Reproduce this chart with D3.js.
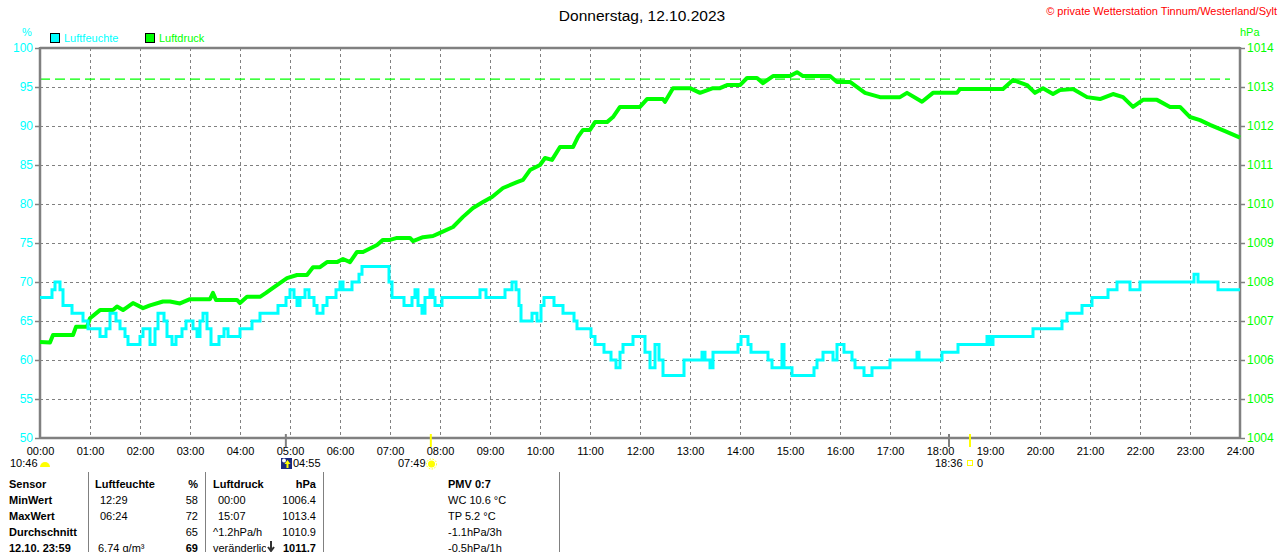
<!DOCTYPE html>
<html>
<head>
<meta charset="utf-8">
<script src="https://cdn.jsdelivr.net/npm/d3@7/dist/d3.min.js"></script>
<style>
  body { margin: 0; background: #fff; }
  text { font-family: "Liberation Sans", Arial, sans-serif; }
</style>
</head>
<body>
<script>
// humidity (%), step values: hour of day -> value
var humTime = [0.00,0.24,0.30,0.40,0.46,0.64,0.86,0.96,1.20,1.32,1.40,1.52,1.60,1.70,1.76,2.00,2.06,2.20,2.30,2.36,2.48,2.54,2.64,2.72,2.84,2.92,3.06,3.14,3.20,3.26,3.34,3.42,3.58,3.68,3.76,4.00,4.24,4.40,4.76,4.92,5.00,5.08,5.14,5.20,5.30,5.38,5.48,5.54,5.66,5.74,5.92,6.00,6.06,6.24,6.38,6.44,6.98,7.04,7.28,7.44,7.50,7.56,7.64,7.70,7.80,7.86,7.90,8.04,8.80,8.92,9.30,9.44,9.52,9.58,9.62,9.84,9.94,10.02,10.08,10.28,10.46,10.68,10.74,11.02,11.10,11.28,11.42,11.52,11.60,11.66,11.86,12.10,12.20,12.30,12.38,12.46,12.88,13.24,13.30,13.40,13.46,13.96,14.02,14.16,14.22,14.56,14.64,14.84,14.88,15.04,15.48,15.54,15.66,15.86,15.94,16.08,16.24,16.30,16.48,16.64,17.00,17.54,17.58,18.04,18.36,18.94,19.00,19.06,19.86,20.44,20.54,20.84,21.04,21.36,21.54,21.80,22.00,23.08,23.16,23.56,24.00];
var humValue = [68,69,70,69,67,66,65,64,63,64,66,65,64,63,62,63,64,62,64,66,65,63,62,63,64,65,64,63,65,66,64,62,63,64,63,64,65,66,67,68,69,68,67,68,69,68,67,66,67,68,69,70,69,70,71,72,70,68,67,68,69,67,66,68,69,68,67,68,69,68,69,70,69,67,65,66,65,67,68,67,66,65,64,63,62,61,60,59,61,62,63,61,59,62,60,58,60,61,60,59,61,62,63,62,61,60,59,62,59,58,59,60,61,60,62,61,60,59,58,59,60,61,60,61,62,63,62,63,64,65,66,67,68,69,70,69,70,71,70,69,69];

// air pressure (hPa)
var presTime = [0.00,0.20,0.26,0.66,0.72,0.94,1.00,1.20,1.46,1.54,1.66,1.86,2.06,2.20,2.46,2.60,2.80,3.00,3.40,3.46,3.52,3.94,4.00,4.14,4.40,4.52,4.66,4.94,5.14,5.34,5.46,5.60,5.74,5.94,6.06,6.20,6.34,6.46,6.74,6.86,7.00,7.14,7.40,7.46,7.66,7.86,8.00,8.26,8.46,8.66,8.86,9.04,9.26,9.54,9.66,9.80,10.00,10.10,10.24,10.40,10.66,10.76,10.86,11.00,11.10,11.34,11.46,11.60,12.00,12.14,12.46,12.50,12.66,13.00,13.20,13.46,13.60,13.74,14.00,14.14,14.34,14.46,14.66,15.00,15.14,15.26,15.80,15.94,16.20,16.50,16.80,17.20,17.34,17.64,17.86,18.34,18.40,19.26,19.46,19.74,19.90,20.06,20.26,20.40,20.66,20.94,21.20,21.46,21.66,21.86,22.06,22.34,22.60,22.80,23.00,23.20,23.40,23.70,24.00];
var presValue = [1006.46,1006.45,1006.64,1006.64,1006.85,1006.85,1007.07,1007.28,1007.28,1007.37,1007.28,1007.46,1007.33,1007.40,1007.50,1007.50,1007.45,1007.56,1007.56,1007.72,1007.54,1007.54,1007.46,1007.62,1007.62,1007.72,1007.85,1008.10,1008.18,1008.18,1008.38,1008.38,1008.51,1008.51,1008.59,1008.51,1008.77,1008.77,1008.95,1009.08,1009.08,1009.13,1009.13,1009.05,1009.15,1009.18,1009.26,1009.41,1009.67,1009.90,1010.05,1010.18,1010.41,1010.56,1010.62,1010.87,1011.00,1011.18,1011.13,1011.46,1011.46,1011.72,1011.90,1011.90,1012.10,1012.10,1012.23,1012.49,1012.49,1012.69,1012.69,1012.62,1012.97,1012.97,1012.85,1012.97,1012.97,1013.05,1013.05,1013.23,1013.23,1013.10,1013.28,1013.28,1013.38,1013.28,1013.28,1013.13,1013.13,1012.85,1012.74,1012.74,1012.85,1012.62,1012.85,1012.85,1012.95,1012.95,1013.18,1013.05,1012.85,1012.97,1012.82,1012.92,1012.95,1012.74,1012.69,1012.82,1012.74,1012.49,1012.67,1012.67,1012.49,1012.49,1012.23,1012.15,1012.03,1011.87,1011.70];

var refPressure = 1013.2;                       // dashed green reference line

var hourTicks = d3.range(0, 25);
var humTicks = d3.range(50, 101, 5);
var presTicks = d3.range(1004, 1015, 1);

// sun / moon markers below the time axis
var markerTimes = [4.917, 7.817, 18.18, 18.6];
var markerColors = ["#808080", "#ffff00", "#808080", "#ffff00"];

// summary table
var tableRows = ["Sensor", "MinWert", "MaxWert", "Durchschnitt", "12.10. 23:59"];
var humTimes = ["Luftfeuchte", "12:29", "06:24", "", "6.74 g/m³"];
var humVals = ["%", "58", "72", "65", "69"];
var presTimes = ["Luftdruck", "00:00", "15:07", "^1.2hPa/h", "veränderlich"];
var presVals = ["hPa", "1006.4", "1013.4", "1010.9", "1011.7"];
var pmvLines = ["PMV 0:7", "WC 10.6 °C", "TP 5.2 °C", "-1.1hPa/3h", "-0.5hPa/1h"];

var W = 1280, H = 552;
var pL = 40, pR = 1240, pT = 48, pB = 438;
var cyan = "#00ffff", green = "#00ff00", grey = "#808080";

var svg = d3.select("body").append("svg")
    .attr("width", W)
    .attr("height", H)
    .style("background", "#fff");

var x = d3.scaleLinear().domain([0, 24]).range([pL, pR]);
var yH = d3.scaleLinear().domain([50, 100]).range([pB, pT]);
var yP = d3.scaleLinear().domain([1004, 1014]).range([pB, pT]);

// grid
var grid = svg.append("g").attr("class", "grid")
    .attr("stroke", grey).attr("stroke-width", 1).attr("stroke-dasharray", "3,3");
grid.selectAll(".vline")
    .data(hourTicks.slice(1, 24))
    .enter().append("line")
    .attr("x1", function(d){ return x(d) + 0.5; })
    .attr("x2", function(d){ return x(d) + 0.5; })
    .attr("y1", pT).attr("y2", pB);
grid.selectAll(".hline")
    .data(humTicks.slice(1, 10))
    .enter().append("line")
    .attr("x1", pL).attr("x2", pR)
    .attr("y1", function(d){ return yH(d) + 0.5; })
    .attr("y2", function(d){ return yH(d) + 0.5; });

// reference pressure line
svg.append("line")
    .attr("x1", pL).attr("x2", pR - 10)
    .attr("y1", yP(refPressure)).attr("y2", yP(refPressure))
    .attr("stroke", green).attr("stroke-width", 1.3)
    .attr("stroke-dasharray", "10,5");

// axes
var xAxis = svg.append("g")
    .attr("transform", "translate(0," + pB + ")")
    .call(d3.axisBottom(x).tickValues(hourTicks).tickSize(0).tickPadding(9)
        .tickFormat(function(d){ return (d < 10 ? "0" : "") + d + ":00"; }));
xAxis.select(".domain").remove();
xAxis.selectAll("text").attr("fill", "#000").style("font-size", "11px");

var yAxisL = svg.append("g")
    .attr("transform", "translate(" + pL + ",0)")
    .call(d3.axisLeft(yH).tickValues(humTicks).tickSize(5).tickPadding(2)
        .tickFormat(d3.format("d")));
yAxisL.select(".domain").remove();
yAxisL.selectAll("line").attr("stroke", grey).attr("stroke-width", 1.5);
yAxisL.selectAll("text").attr("fill", cyan).style("font-size", "12px");

var yAxisR = svg.append("g")
    .attr("transform", "translate(" + pR + ",0)")
    .call(d3.axisRight(yP).tickValues(presTicks).tickSize(5).tickPadding(2)
        .tickFormat(d3.format("d")));
yAxisR.select(".domain").remove();
yAxisR.selectAll("line").attr("stroke", grey).attr("stroke-width", 1.5);
yAxisR.selectAll("text").attr("fill", green).style("font-size", "12px");

// frame
var frame = svg.append("g").attr("stroke", grey).attr("stroke-width", 2.5).attr("fill", "none");
frame.append("line").attr("x1", pL).attr("x2", pR).attr("y1", pT).attr("y2", pT);
frame.append("line").attr("x1", pL).attr("x2", pR).attr("y1", pB).attr("y2", pB);
frame.append("line").attr("x1", pL).attr("x2", pL).attr("y1", pT - 1).attr("y2", pB + 1);
frame.append("line").attr("x1", pR).attr("x2", pR).attr("y1", pT - 1).attr("y2", pB + 1);

// series
var presLine = d3.line()
    .x(function(d){ return x(d[0]); })
    .y(function(d){ return yP(d[1]); });
svg.append("path")
    .datum(d3.zip(presTime, presValue))
    .attr("d", presLine)
    .attr("fill", "none").attr("stroke", green).attr("stroke-width", 4)
    .attr("stroke-linejoin", "round");

var humLine = d3.line()
    .curve(d3.curveStepAfter)
    .x(function(d){ return x(d[0]); })
    .y(function(d){ return yH(d[1]); });
svg.append("path")
    .datum(d3.zip(humTime, humValue))
    .attr("d", humLine)
    .attr("fill", "none").attr("stroke", cyan).attr("stroke-width", 3);

// markers on time axis
svg.selectAll(".marker")
    .data(markerTimes)
    .enter().append("line")
    .attr("class", "marker")
    .attr("x1", function(d){ return x(d); })
    .attr("x2", function(d){ return x(d); })
    .attr("y1", pB - 4).attr("y2", pB + 9)
    .attr("stroke", function(d, i){ return markerColors[i]; })
    .attr("stroke-width", 2);

// sun / moon captions
var cap = svg.append("g").style("font-size", "11px");
cap.append("text").attr("x", 10).attr("y", 467).text("10:46");
cap.append("path").attr("d", "M40,467 A5,5 0 0 1 50,467 Z").attr("fill", "#ffff00");
cap.append("rect").attr("x", 281).attr("y", 458).attr("width", 11).attr("height", 11).attr("fill", "#1a2a80");
cap.append("circle").attr("cx", 284).attr("cy", 460.5).attr("r", 2).attr("fill", "#fff");
cap.append("path").attr("d", "M287.5,460 L290.5,464 L288.5,464 L288.5,468 L286.5,468 L286.5,464 L284.5,464 Z").attr("fill", "#ffff00");
cap.append("text").attr("x", 293).attr("y", 467).text("04:55");
cap.append("text").attr("x", 398).attr("y", 467).text("07:49");
cap.append("circle").attr("cx", 431.5).attr("cy", 464).attr("r", 3.5).attr("fill", "#ffff00");
cap.append("circle").attr("cx", 431.5).attr("cy", 464).attr("r", 5).attr("fill", "none")
    .attr("stroke", "#ffff00").attr("stroke-width", 1).attr("stroke-dasharray", "1.5,1.5");
cap.append("text").attr("x", 935).attr("y", 467).text("18:36");
cap.append("rect").attr("x", 967.5).attr("y", 460.5).attr("width", 5).attr("height", 5)
    .attr("fill", "none").attr("stroke", "#ffff00");
cap.append("text").attr("x", 977).attr("y", 467).text("0");

// titles and labels
svg.append("text").attr("x", 642).attr("y", 21).attr("text-anchor", "middle")
    .style("font-size", "15.5px").text("Donnerstag, 12.10.2023");
svg.append("text").attr("x", 1277).attr("y", 15).attr("text-anchor", "end")
    .attr("fill", "#ff0000").style("font-size", "11px")
    .text("© private Wetterstation Tinnum/Westerland/Sylt");
svg.append("text").attr("x", 22).attr("y", 36).attr("fill", cyan).style("font-size", "11px").text("%");
svg.append("text").attr("x", 1240).attr("y", 36).attr("fill", green).style("font-size", "11px").text("hPa");

// legend
var legendItems = [["Luftfeuchte", cyan, 50], ["Luftdruck", green, 145]];
var legend = svg.selectAll(".legend")
    .data(legendItems)
    .enter().append("g").attr("class", "legend");
legend.append("rect")
    .attr("x", function(d){ return d[2] + 0.5; }).attr("y", 33.5)
    .attr("width", 9).attr("height", 9)
    .attr("fill", function(d){ return d[1]; })
    .attr("stroke", "#000");
legend.append("text")
    .attr("x", function(d){ return d[2] + 14; }).attr("y", 42)
    .attr("fill", function(d){ return d[1]; })
    .style("font-size", "11px")
    .text(function(d){ return d[0]; });

// table
var table = svg.append("g").style("font-size", "11px");
[88, 205, 323, 559].forEach(function(sx){
    table.append("line").attr("x1", sx + 0.5).attr("x2", sx + 0.5)
        .attr("y1", 472).attr("y2", H).attr("stroke", grey).attr("stroke-width", 1);
});
tableRows.forEach(function(r, i){
    var yy = 488 + i * 16;
    var head = (i === 0 || i === 4);
    table.append("text").attr("x", 9).attr("y", yy).style("font-weight", "bold").text(r);
    table.append("text").attr("x", i === 0 ? 95 : (i === 4 ? 98 : 100)).attr("y", yy)
        .style("font-weight", i === 0 ? "bold" : "normal").text(humTimes[i]);
    table.append("text").attr("x", 198).attr("y", yy).attr("text-anchor", "end")
        .style("font-weight", head ? "bold" : "normal").text(humVals[i]);
    table.append("text").attr("x", (i === 1 || i === 2) ? 218 : 213).attr("y", yy)
        .style("font-weight", i === 0 ? "bold" : "normal").text(presTimes[i]);
    table.append("text").attr("x", 316).attr("y", yy).attr("text-anchor", "end")
        .style("font-weight", head ? "bold" : "normal").text(presVals[i]);
    table.append("text").attr("x", 448).attr("y", yy)
        .style("font-weight", i === 0 ? "bold" : "normal").text(pmvLines[i]);
});
// falling-pressure arrow in last row
table.append("rect").attr("x", 266).attr("y", 540).attr("width", 10).attr("height", 12).attr("fill", "#fff");
table.append("path").attr("d", "M271,541 L271,550 M268,547 L271,551 L274,547")
    .attr("stroke", "#333").attr("stroke-width", 2).attr("fill", "none");
</script>
</body>
</html>
